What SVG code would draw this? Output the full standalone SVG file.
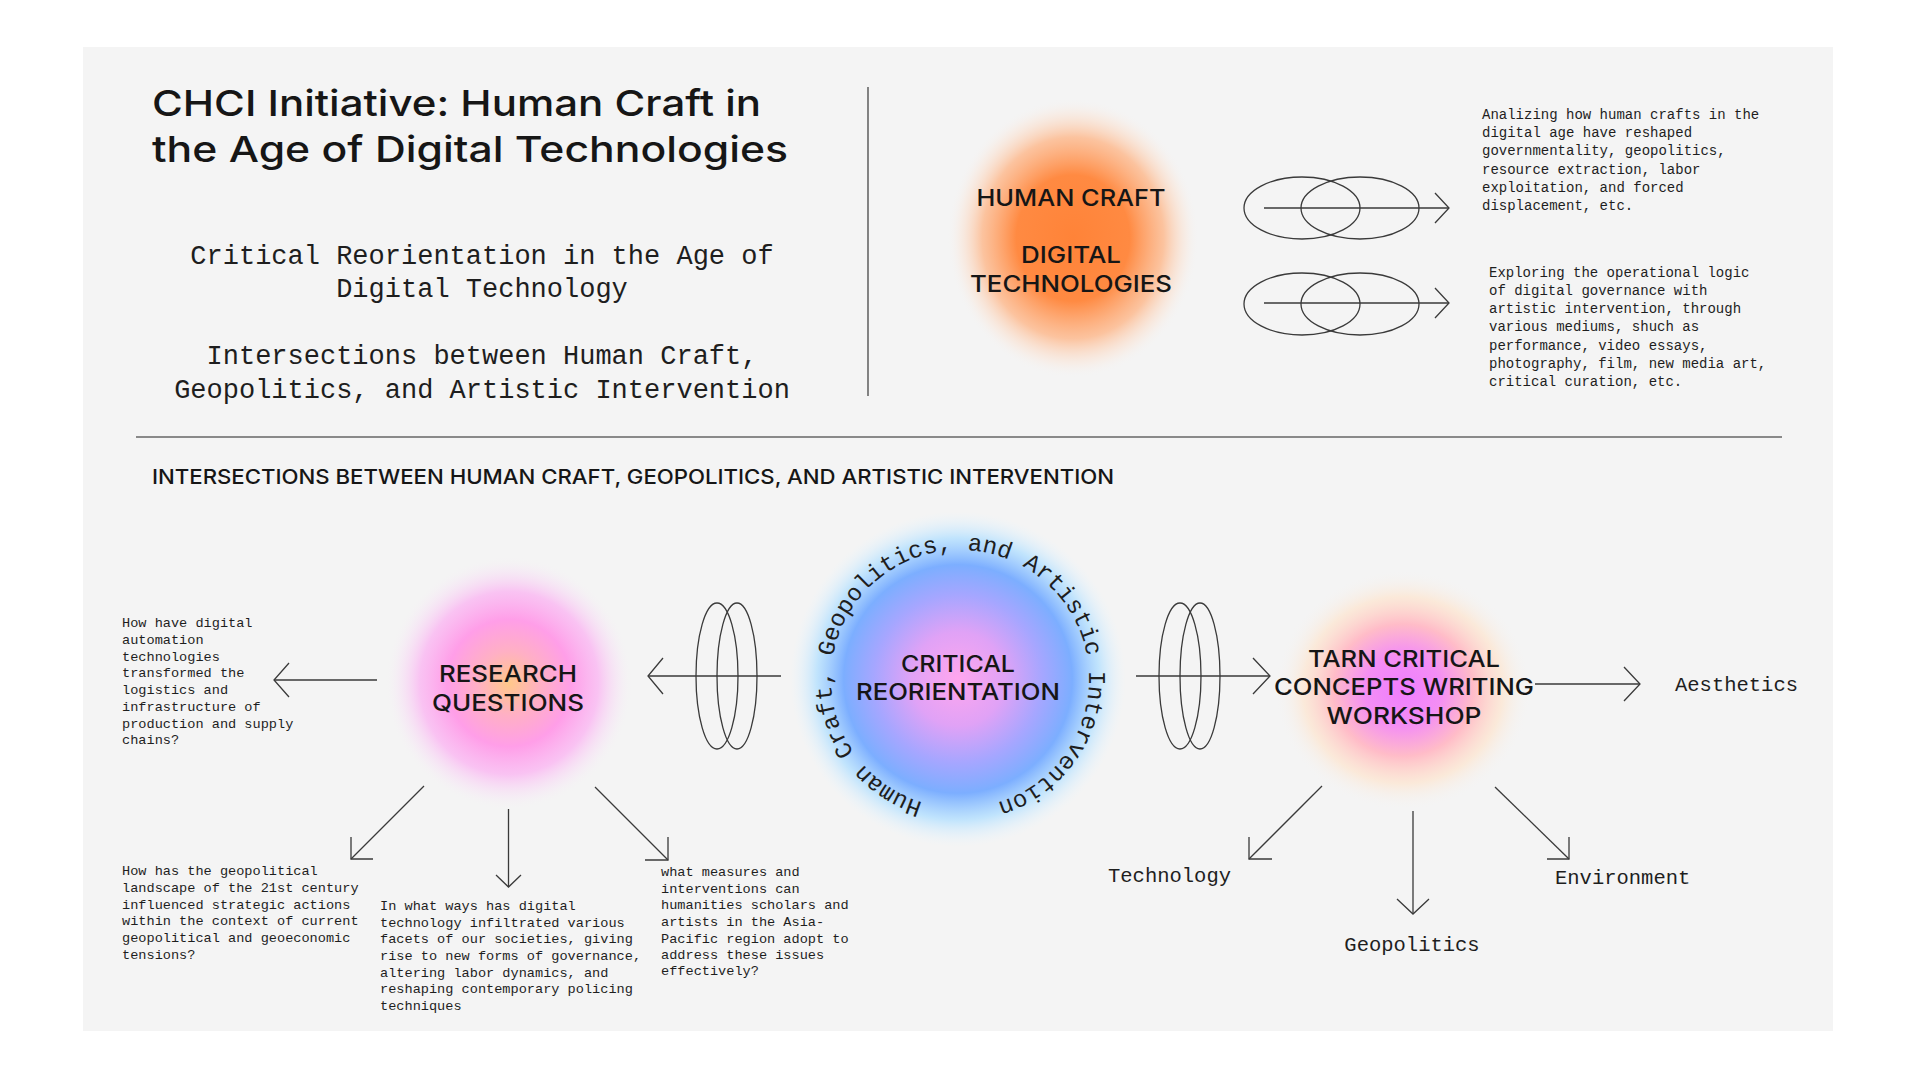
<svg xmlns="http://www.w3.org/2000/svg" width="1920" height="1080" viewBox="0 0 1920 1080">
<defs>
<radialGradient id="gOrange" cx="50%" cy="50%" r="50%">
<stop offset="0" stop-color="#ff8338"/>
<stop offset="0.45" stop-color="#ff8a42"/>
<stop offset="0.72" stop-color="#ffae7a" stop-opacity="0.7"/>
<stop offset="0.9" stop-color="#ffd9c0" stop-opacity="0.25"/>
<stop offset="1" stop-color="#f4f4f4" stop-opacity="0"/>
</radialGradient>
<radialGradient id="gRQ" cx="50%" cy="50%" r="50%">
<stop offset="0" stop-color="#ffc889"/>
<stop offset="0.25" stop-color="#ffb0c4"/>
<stop offset="0.5" stop-color="#ff9ee8"/>
<stop offset="0.72" stop-color="#fbb2f2" stop-opacity="0.75"/>
<stop offset="0.9" stop-color="#f8dcf6" stop-opacity="0.3"/>
<stop offset="1" stop-color="#f4f4f4" stop-opacity="0"/>
</radialGradient>
<radialGradient id="gCR" cx="50%" cy="50%" r="50%">
<stop offset="0" stop-color="#ffa6ee"/>
<stop offset="0.28" stop-color="#e0a2f6"/>
<stop offset="0.5" stop-color="#a6a6ff"/>
<stop offset="0.68" stop-color="#7caeff"/>
<stop offset="0.84" stop-color="#b4e0ff" stop-opacity="0.8"/>
<stop offset="1" stop-color="#e6f5ff" stop-opacity="0"/>
</radialGradient>
<radialGradient id="gTARN" cx="50%" cy="50%" r="50%">
<stop offset="0" stop-color="#ee7eff"/>
<stop offset="0.3" stop-color="#f48ef4"/>
<stop offset="0.55" stop-color="#ffbcc8"/>
<stop offset="0.78" stop-color="#ffe2c8" stop-opacity="0.6"/>
<stop offset="1" stop-color="#f4f4f4" stop-opacity="0"/>
</radialGradient>
<path id="ringPath" d="M 960 808 A 129 129 0 1 1 960 550 A 129 129 0 1 1 960 808"/>
</defs>
<style>
.sans{font-family:Inter,"Liberation Sans",sans-serif;fill:#161616}
.title{font-size:36px;font-weight:500}
.node{font-size:23px;font-weight:500;text-anchor:middle}
.head{font-size:20px;font-weight:500}
.mono{font-family:"Liberation Mono","DejaVu Sans Mono",monospace;fill:#1e1e1e}
.sub{font-size:27px;text-anchor:middle}
.para{font-size:14px}
.small{font-size:13.6px}
.lab{font-size:20.5px}
.ring{font-size:24px}
.ln{stroke:#3a3a3a;stroke-width:1.3;fill:none}
.rule{stroke:#666;stroke-width:1.6;fill:none}
</style>
<rect x="0" y="0" width="1920" height="1080" fill="#ffffff"/>
<rect x="83" y="47" width="1750" height="984" fill="#f4f4f4"/>

<g id="header">
<text class="sans title" x="152" y="116" textLength="609" lengthAdjust="spacingAndGlyphs">CHCI Initiative: Human Craft in</text>
<text class="sans title" x="152" y="162" textLength="636" lengthAdjust="spacingAndGlyphs">the Age of Digital Technologies</text>
<text class="mono sub" x="482" y="264">Critical Reorientation in the Age of</text>
<text class="mono sub" x="482" y="297">Digital Technology</text>
<text class="mono sub" x="482" y="364">Intersections between Human Craft,</text>
<text class="mono sub" x="482" y="398">Geopolitics, and Artistic Intervention</text>
<line class="rule" x1="868" y1="87" x2="868" y2="396"/>
<line class="rule" x1="136" y1="437" x2="1782" y2="437"/>
<text class="sans head" x="152" y="484" textLength="962" lengthAdjust="spacingAndGlyphs">INTERSECTIONS BETWEEN HUMAN CRAFT, GEOPOLITICS, AND ARTISTIC INTERVENTION</text>
</g>

<g id="node-human-craft">
<ellipse cx="1073" cy="238" rx="126" ry="140" fill="url(#gOrange)"/>
<text class="sans node" x="1071" y="206" textLength="189" lengthAdjust="spacingAndGlyphs">HUMAN CRAFT</text>
<text class="sans node" x="1071" y="263" textLength="100" lengthAdjust="spacingAndGlyphs">DIGITAL</text>
<text class="sans node" x="1071" y="292" textLength="202" lengthAdjust="spacingAndGlyphs">TECHNOLOGIES</text>
</g>

<g id="text-analizing">
<text class="mono para" x="1482" y="119">Analizing how human crafts in the</text>
<text class="mono para" x="1482" y="137">digital age have reshaped</text>
<text class="mono para" x="1482" y="155">governmentality, geopolitics,</text>
<text class="mono para" x="1482" y="174">resource extraction, labor</text>
<text class="mono para" x="1482" y="192">exploitation, and forced</text>
<text class="mono para" x="1482" y="210">displacement, etc.</text>
</g>

<g id="text-exploring">
<text class="mono para" x="1489" y="277">Exploring the operational logic</text>
<text class="mono para" x="1489" y="295">of digital governance with</text>
<text class="mono para" x="1489" y="313">artistic intervention, through</text>
<text class="mono para" x="1489" y="331">various mediums, shuch as</text>
<text class="mono para" x="1489" y="350">performance, video essays,</text>
<text class="mono para" x="1489" y="368">photography, film, new media art,</text>
<text class="mono para" x="1489" y="386">critical curation, etc.</text>
</g>

<g id="node-research-questions">
<ellipse cx="509" cy="683" rx="124" ry="127" fill="url(#gRQ)"/>
<text class="sans node" x="508" y="682" textLength="138" lengthAdjust="spacingAndGlyphs">RESEARCH</text>
<text class="sans node" x="508" y="711" textLength="152" lengthAdjust="spacingAndGlyphs">QUESTIONS</text>
</g>

<g id="node-critical-reorientation">
<circle cx="958" cy="679" r="168" fill="url(#gCR)"/>
<text class="sans node" x="958" y="672" textLength="114" lengthAdjust="spacingAndGlyphs">CRITICAL</text>
<text class="sans node" x="958" y="700" textLength="204" lengthAdjust="spacingAndGlyphs">REORIENTATION</text>
<text class="mono ring"><textPath href="#ringPath" startOffset="50%" text-anchor="middle">Human Craft, Geopolitics, and Artistic Intervention</textPath></text>
</g>

<g id="node-tarn">
<ellipse cx="1403" cy="690" rx="128" ry="120" fill="url(#gTARN)"/>
<text class="sans node" x="1404" y="667" textLength="192" lengthAdjust="spacingAndGlyphs">TARN CRITICAL</text>
<text class="sans node" x="1404" y="695" textLength="260" lengthAdjust="spacingAndGlyphs">CONCEPTS WRITING</text>
<text class="sans node" x="1404" y="724" textLength="155" lengthAdjust="spacingAndGlyphs">WORKSHOP</text>
</g>

<g id="text-q1">
<text class="mono small" x="122" y="627">How have digital</text>
<text class="mono small" x="122" y="644">automation</text>
<text class="mono small" x="122" y="661">technologies</text>
<text class="mono small" x="122" y="677">transformed the</text>
<text class="mono small" x="122" y="694">logistics and</text>
<text class="mono small" x="122" y="711">infrastructure of</text>
<text class="mono small" x="122" y="728">production and supply</text>
<text class="mono small" x="122" y="744">chains?</text>
</g>

<g id="text-q2">
<text class="mono small" x="122" y="875">How has the geopolitical</text>
<text class="mono small" x="122" y="892">landscape of the 21st century</text>
<text class="mono small" x="122" y="909">influenced strategic actions</text>
<text class="mono small" x="122" y="925">within the context of current</text>
<text class="mono small" x="122" y="942">geopolitical and geoeconomic</text>
<text class="mono small" x="122" y="959">tensions?</text>
</g>

<g id="text-q3">
<text class="mono small" x="380" y="910">In what ways has digital</text>
<text class="mono small" x="380" y="927">technology infiltrated various</text>
<text class="mono small" x="380" y="943">facets of our societies, giving</text>
<text class="mono small" x="380" y="960">rise to new forms of governance,</text>
<text class="mono small" x="380" y="977">altering labor dynamics, and</text>
<text class="mono small" x="380" y="993">reshaping contemporary policing</text>
<text class="mono small" x="380" y="1010">techniques</text>
</g>

<g id="text-q4">
<text class="mono small" x="661" y="876">what measures and</text>
<text class="mono small" x="661" y="893">interventions can</text>
<text class="mono small" x="661" y="909">humanities scholars and</text>
<text class="mono small" x="661" y="926">artists in the Asia-</text>
<text class="mono small" x="661" y="943">Pacific region adopt to</text>
<text class="mono small" x="661" y="959">address these issues</text>
<text class="mono small" x="661" y="975">effectively?</text>
</g>

<g id="label-aesthetics"><text class="mono lab" x="1675" y="691">Aesthetics</text></g>
<g id="label-technology"><text class="mono lab" x="1108" y="882">Technology</text></g>
<g id="label-geopolitics"><text class="mono lab" x="1412" y="951" text-anchor="middle">Geopolitics</text></g>
<g id="label-environment"><text class="mono lab" x="1555" y="884">Environment</text></g>

<g id="connectors">
<ellipse class="ln" cx="1302" cy="208" rx="58" ry="31"/>
<ellipse class="ln" cx="1360" cy="208" rx="59" ry="31"/>
<line class="ln" x1="1264" y1="208" x2="1449" y2="208"/>
<polyline class="ln" points="1435,193 1449,208 1435,223"/>
<ellipse class="ln" cx="1302" cy="304" rx="58" ry="31"/>
<ellipse class="ln" cx="1360" cy="304" rx="59" ry="31"/>
<line class="ln" x1="1264" y1="303" x2="1449" y2="303"/>
<polyline class="ln" points="1435,288 1449,303 1435,318"/>
<ellipse class="ln" cx="717" cy="676" rx="21" ry="73"/>
<ellipse class="ln" cx="737" cy="676" rx="20" ry="73"/>
<line class="ln" x1="781" y1="676" x2="648" y2="676"/>
<polyline class="ln" points="663,658 648,676 663,694"/>
<ellipse class="ln" cx="1180" cy="676" rx="21" ry="73"/>
<ellipse class="ln" cx="1200" cy="676" rx="20" ry="73"/>
<line class="ln" x1="1136" y1="676" x2="1270" y2="676"/>
<polyline class="ln" points="1253,658 1270,676 1253,694"/>
<line class="ln" x1="377" y1="680" x2="274" y2="680"/>
<polyline class="ln" points="289,663 274,680 289,697"/>
<line class="ln" x1="424" y1="786" x2="351" y2="859"/>
<polyline class="ln" points="351,837 351,859 373,859"/>
<line class="ln" x1="508.5" y1="809" x2="508.5" y2="887"/>
<polyline class="ln" points="496,875 508.5,887 521,875"/>
<line class="ln" x1="595" y1="787" x2="668" y2="860"/>
<polyline class="ln" points="668,837 668,860 645,860"/>
<line class="ln" x1="1535" y1="684" x2="1640" y2="684"/>
<polyline class="ln" points="1624,667 1640,684 1624,701"/>
<line class="ln" x1="1322" y1="786" x2="1249" y2="859"/>
<polyline class="ln" points="1249,837 1249,859 1272,859"/>
<line class="ln" x1="1413" y1="811" x2="1413" y2="914"/>
<polyline class="ln" points="1397,899 1413,914 1429,899"/>
<line class="ln" x1="1495" y1="787" x2="1569" y2="859"/>
<polyline class="ln" points="1569,837 1569,859 1547,859"/>
</g>
</svg>
